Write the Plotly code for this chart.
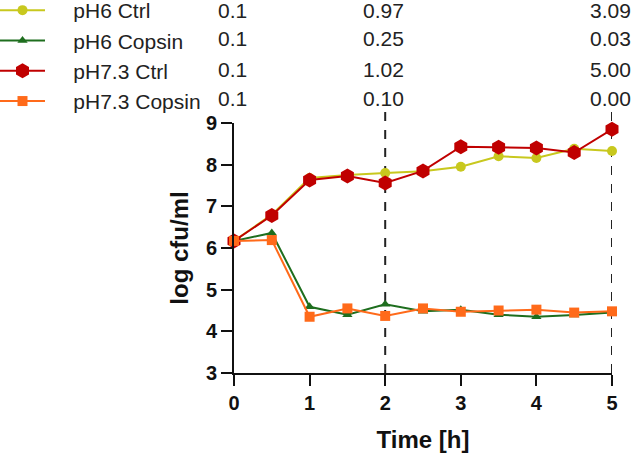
import plotly.graph_objects as go

time_h = [0, 0.5, 1, 1.5, 2, 2.5, 3, 3.5, 4, 4.5, 5]
ph6_ctrl = [6.17, 6.80, 7.68, 7.75, 7.80, 7.84, 7.95, 8.20, 8.16, 8.38, 8.33]
ph6_copsin = [6.17, 6.36, 4.59, 4.40, 4.65, 4.48, 4.52, 4.40, 4.35, 4.39, 4.45]
ph73_ctrl = [6.17, 6.78, 7.63, 7.73, 7.56, 7.85, 8.43, 8.42, 8.40, 8.29, 8.85]
ph73_copsin = [6.17, 6.19, 4.35, 4.55, 4.37, 4.55, 4.47, 4.50, 4.52, 4.45, 4.48]

series_names = ["pH6 Ctrl", "pH6 Copsin", "pH7.3 Ctrl", "pH7.3 Copsin"]
col0 = ["0.1", "0.1", "0.1", "0.1"]
col2 = ["0.97", "0.25", "1.02", "0.10"]
col5 = ["3.09", "0.03", "5.00", "0.00"]
dashed_times = [2, 5]
x_ticks = [0, 1, 2, 3, 4, 5]
y_ticks = [3, 4, 5, 6, 7, 8, 9]

colors = ["#c8c81e", "#1e6e1e", "#c00000", "#ff6a1a"]
symbols = ["circle", "triangle-up", "hexagon", "square"]
sizes = [10, 9, 15, 10]
values = [ph6_ctrl, ph6_copsin, ph73_ctrl, ph73_copsin]

W, H = 633, 453
ml, mr, mt, mb = 234, 21, 123, 80
pw = W - ml - mr
ph = H - mt - mb

fig = go.Figure()
for i, (name, ys) in enumerate(zip(series_names, values)):
    fig.add_trace(go.Scatter(
        x=time_h, y=ys, name="\u00a0" * 4 + name, mode="lines+markers",
        line=dict(color=colors[i], width=2),
        marker=dict(color=colors[i], symbol=symbols[i], size=sizes[i]),
        cliponaxis=False, legendgroup=str(i),
    ))

def px_x(p):
    return (p - ml) / pw

def px_y(p):
    return 1 - (p - mt) / ph

shapes = []
for t in dashed_times:
    shapes.append(dict(type="line", xref="x", yref="paper", x0=t, x1=t,
                       y0=0, y1=px_y(106), layer="below",
                       line=dict(color="#222", width=2, dash="dash")))

annotations = []
row_y = [10, 39, 69, 99]
font_txt = dict(family="Liberation Sans, Arial", size=21, color="#222")
for r in range(4):
    for xpix, col in [(218, col0), (363, col2), (590, col5)]:
        annotations.append(dict(x=px_x(xpix), y=px_y(row_y[r]), xref="paper", yref="paper",
                                text=col[r], showarrow=False, xanchor="left", yanchor="middle",
                                xshift=-2, font=font_txt))

fig.update_layout(
    width=W, height=H, margin=dict(l=ml, r=mr, t=mt, b=mb, autoexpand=False),
    plot_bgcolor="white", paper_bgcolor="white",
    font=dict(family="Liberation Sans, Arial", color="#111"),
    shapes=shapes, annotations=annotations,
    showlegend=True,
    legend=dict(x=px_x(-5), y=px_y(-10), xanchor="left", yanchor="top",
                font=dict(family="Liberation Sans, Arial", size=21, color="#222"),
                tracegroupgap=0, itemwidth=45, bgcolor="rgba(0,0,0,0)"),
)
fig.update_xaxes(range=[0, 5], tickvals=x_ticks, showgrid=False, zeroline=False,
                 showline=True, linecolor="#111", linewidth=2,
                 ticks="outside", ticklen=11, tickwidth=2, tickcolor="#111",
                 tickfont=dict(size=20, family="Liberation Sans, Arial", color="#111", weight="bold"),
                 title=dict(text="<b>Time [h]</b>", font=dict(size=24, color="#111"), standoff=19))
fig.update_yaxes(range=[3, 9], tickvals=y_ticks, showgrid=False, zeroline=False,
                 showline=True, linecolor="#111", linewidth=2,
                 ticks="outside", ticklen=11, tickwidth=2, tickcolor="#111",
                 tickfont=dict(size=20, family="Liberation Sans, Arial", color="#111", weight="bold"),
                 title=dict(text="<b>log cfu/ml</b>", font=dict(size=24, color="#111"), standoff=10))

fig.write_html("out.html", config={"displayModeBar": False},
               post_script="document.body.style.margin='0';")
